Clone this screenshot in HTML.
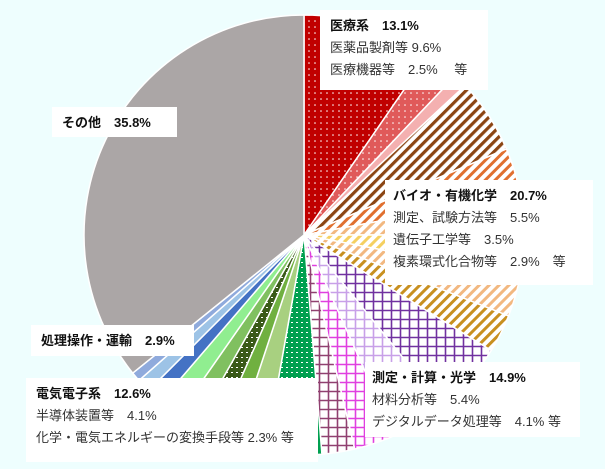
<!DOCTYPE html>
<html><head><meta charset="utf-8"><style>
html,body{margin:0;padding:0;background:#eefefe;}
svg{display:block;}
text{font-family:"Liberation Sans","Noto Sans CJK JP",sans-serif;font-size:13px;fill:#333;}
.b{font-weight:bold;fill:#111;}
</style></head><body>
<svg id="s" width="605" height="469" xmlns="http://www.w3.org/2000/svg">
<defs>
<pattern id="dotR" width="6" height="6" patternUnits="userSpaceOnUse"><rect width="6" height="6" fill="#c00000"/><circle cx="3" cy="3" r="0.8" fill="#fff"/></pattern>
<pattern id="dotC" width="6" height="6" patternUnits="userSpaceOnUse"><rect width="6" height="6" fill="#e05a5a"/><circle cx="3" cy="3" r="0.8" fill="#fff"/></pattern>
<pattern id="hBr" width="7" height="7" patternUnits="userSpaceOnUse" patternTransform="rotate(-45)"><rect width="7" height="7" fill="#fff"/><rect width="7" height="3.2" fill="#8b4513"/></pattern>
<pattern id="hOr" width="7" height="7" patternUnits="userSpaceOnUse" patternTransform="rotate(-45)"><rect width="7" height="7" fill="#fff"/><rect width="7" height="3" fill="#e07030"/></pattern>
<pattern id="hLo" width="7" height="7" patternUnits="userSpaceOnUse" patternTransform="rotate(-45)"><rect width="7" height="7" fill="#fff"/><rect width="7" height="3" fill="#f2b880"/></pattern>
<pattern id="hYe" width="7" height="7" patternUnits="userSpaceOnUse" patternTransform="rotate(-45)"><rect width="7" height="7" fill="#fff"/><rect width="7" height="3" fill="#f5d060"/></pattern>
<pattern id="hGo" width="7" height="7" patternUnits="userSpaceOnUse" patternTransform="rotate(-45)"><rect width="7" height="7" fill="#fff"/><rect width="7" height="3" fill="#c89020"/></pattern>
<pattern id="gP" width="9" height="9" patternUnits="userSpaceOnUse"><rect width="9" height="9" fill="#fff"/><path d="M0 4.5H9M4.5 0V9" stroke="#7030a0" stroke-width="1.6"/></pattern>
<pattern id="gL" width="9" height="9" patternUnits="userSpaceOnUse"><rect width="9" height="9" fill="#fff"/><path d="M0 4.5H9M4.5 0V9" stroke="#c8a0e8" stroke-width="1.6"/></pattern>
<pattern id="gM" width="9" height="9" patternUnits="userSpaceOnUse"><rect width="9" height="9" fill="#fff"/><path d="M0 4.5H9M4.5 0V9" stroke="#e040e0" stroke-width="1.6"/></pattern>
<pattern id="gD" width="9" height="9" patternUnits="userSpaceOnUse"><rect width="9" height="9" fill="#fff"/><path d="M0 4.5H9M4.5 0V9" stroke="#904070" stroke-width="1.6"/></pattern>
<pattern id="dG" width="5" height="5" patternUnits="userSpaceOnUse"><rect width="5" height="5" fill="#00a050"/><rect x="1" y="2" width="2" height="1" fill="#fff"/></pattern>
<pattern id="dK" width="5" height="5" patternUnits="userSpaceOnUse"><rect width="5" height="5" fill="#3a5a18"/><rect x="1" y="2" width="2" height="1" fill="#fff"/></pattern>
</defs>
<g id="pie"></g>
<rect x="320" y="10" width="168" height="80" fill="#fff"/>
<text x="330" y="30" class="b">医療系　13.1%</text>
<text x="330" y="52">医薬品製剤等 9.6%</text>
<text x="330" y="74">医療機器等　2.5%　 等</text>
<rect x="385" y="180" width="208" height="105" fill="#fff"/>
<text x="393" y="200" class="b">バイオ・有機化学　20.7%</text>
<text x="393" y="222">測定、試験方法等　5.5%</text>
<text x="393" y="244">遺伝子工学等　3.5%</text>
<text x="393" y="266">複素環式化合物等　2.9%　等</text>
<rect x="365" y="362" width="215" height="75" fill="#fff"/>
<text x="372" y="382" class="b">測定・計算・光学　14.9%</text>
<text x="372" y="404">材料分析等　5.4%</text>
<text x="372" y="426">デジタルデータ処理等　4.1% 等</text>
<rect x="26" y="378" width="292" height="84" fill="#fff"/>
<text x="36" y="398" class="b">電気電子系　12.6%</text>
<text x="36" y="420">半導体装置等　4.1%</text>
<text x="36" y="442">化学・電気エネルギーの変換手段等 2.3% 等</text>
<rect x="31" y="325" width="163" height="31" fill="#fff"/>
<text x="41" y="345" class="b">処理操作・運輸　2.9%</text>
<rect x="52" y="107" width="125" height="30" fill="#fff"/>
<text x="62" y="127" class="b">その他　35.8%</text>
</svg>
<script>
var cx=304,cy=235,r=220;
var d=[[9.6,"url(#dotR)"],[2.5,"url(#dotC)"],[1.0,"#f4b0b0"],
[5.5,"url(#hBr)"],[3.5,"url(#hOr)"],[2.9,"url(#hLo)"],[3.0,"url(#hYe)"],[3.0,"url(#hLo)"],[2.8,"url(#hGo)"],
[5.4,"url(#gP)"],[4.1,"url(#gL)"],[3.0,"url(#gM)"],[2.4,"url(#gD)"],
[4.1,"url(#dG)"],[2.3,"#a8d080"],[1.5,"#70b040"],[1.6,"url(#dK)"],[1.5,"#80c060"],[1.6,"#90ee90"],
[1.2,"#4472c4"],[1.0,"#9dc3e6"],[0.7,"#8faadc"],
[35.8,"#aba6a6"]];
var tot=0;d.forEach(function(x){tot+=x[0];});
var a=0,g=document.getElementById("pie"),h="";
d.forEach(function(x){
 var a1=a+x[0]/tot*2*Math.PI;
 var x0=cx+r*Math.sin(a),y0=cy-r*Math.cos(a),x1=cx+r*Math.sin(a1),y1=cy-r*Math.cos(a1);
 var lg=(a1-a)>Math.PI?1:0;
 h+='<path d="M'+cx+' '+cy+'L'+x0+' '+y0+'A'+r+' '+r+' 0 '+lg+' 1 '+x1+' '+y1+'Z" fill="'+x[1]+'" stroke="#fff" stroke-width="1.5"/>';
 a=a1;});
g.innerHTML=h;
</script>
</body></html>
